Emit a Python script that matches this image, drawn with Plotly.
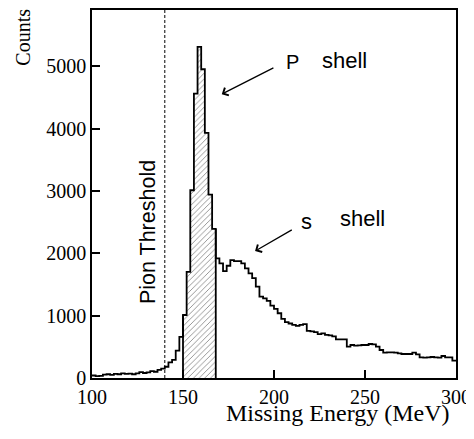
import plotly.graph_objects as go

# ---- data ----
bin_start = list(range(100, 300, 2))  # 2 MeV bins, 100..298
counts = [
    40, 30, 35, 55, 60, 50, 65, 60, 75, 65,
    70, 60, 75, 95, 80, 90, 110, 100, 130, 150,
    180, 250, 290, 440, 660, 1010, 1700, 3010, 4560, 5310,
    4950, 3930, 2940, 2390, 1918, 1838, 1715, 1800, 1890, 1875,
    1875, 1838, 1758, 1678, 1600, 1465, 1305, 1278, 1236, 1160,
    1108, 1038, 948, 895, 874, 852, 836, 852, 863, 756,
    746, 735, 703, 714, 692, 682, 666, 620, 620, 620,
    502, 529, 518, 523, 529, 529, 545, 540, 502, 449,
    406, 411, 411, 406, 396, 385, 385, 385, 406, 380,
    332, 327, 332, 337, 332, 327, 353, 332, 332, 278,
]
bin_width = 2
p_shell_range = (150, 168)     # hatched region
pion_threshold = 140
x_ticks = [100, 150, 200, 250, 300]
y_ticks = [0, 1000, 2000, 3000, 4000, 5000]

# ---- derived ----
edges = bin_start + [bin_start[-1] + bin_width]
step_y = counts + [counts[-1]]

hx = [b + bin_width / 2 for b in bin_start if p_shell_range[0] <= b < p_shell_range[1]]
hy = [c for b, c in zip(bin_start, counts) if p_shell_range[0] <= b < p_shell_range[1]]
first_h = counts[bin_start.index(p_shell_range[0])]
last_h = counts[bin_start.index(p_shell_range[1] - bin_width)]

fig = go.Figure()

# hatched p-shell bars
fig.add_trace(go.Bar(
    x=hx, y=hy, width=bin_width,
    marker=dict(color="white", line=dict(width=0),
                pattern=dict(shape="/", fgcolor="black", bgcolor="white",
                             size=4, solidity=0.2)),
    showlegend=False, hoverinfo="skip"))

# pion threshold dashed line
fig.add_trace(go.Scatter(
    x=[pion_threshold, pion_threshold], y=[0, 5900], mode="lines",
    line=dict(color="black", width=1, dash="3px,2px"),
    showlegend=False, hoverinfo="skip"))

# histogram outline
fig.add_trace(go.Scatter(
    x=edges, y=step_y, mode="lines", line_shape="hv",
    line=dict(color="black", width=1.8),
    showlegend=False))

# edges of hatched region down to baseline
fig.add_trace(go.Scatter(
    x=[p_shell_range[0], p_shell_range[0], None, p_shell_range[1], p_shell_range[1]],
    y=[0, first_h, None, 0, last_h], mode="lines",
    line=dict(color="black", width=1.8),
    showlegend=False, hoverinfo="skip"))

axis_common = dict(
    showline=True, mirror=True, linecolor="black", linewidth=1.5,
    ticks="inside", ticklen=8, tickwidth=1.5, tickcolor="black",
    showgrid=False, zeroline=False, automargin=False,
    tickfont=dict(family="Liberation Serif", size=20, color="black"),
)

# the page body adds an 8px offset, so the figure is sized/margined to compensate
fig.update_layout(
    width=466, height=431,
    margin=dict(l=84, r=18, t=2, b=61),
    paper_bgcolor="white", plot_bgcolor="white",
    bargap=0,
    xaxis=dict(range=[100, 300], tickvals=x_ticks, **axis_common),
    yaxis=dict(range=[0, 5900], tickvals=y_ticks, **axis_common),
    annotations=[
        dict(text="Missing Energy (MeV)", xref="paper", yref="paper",
             x=0.99, y=-0.095, xanchor="right", yanchor="middle", showarrow=False,
             font=dict(family="Liberation Serif", size=24, color="black")),
        dict(text="Counts", xref="paper", yref="paper",
             x=-0.19, y=0.927, xanchor="center", yanchor="middle", showarrow=False,
             textangle=-90,
             font=dict(family="Liberation Serif", size=20, color="black")),
        dict(text="Pion Threshold", xref="x", yref="y", x=130.8, y=2340,
             showarrow=False, textangle=-90,
             font=dict(family="Liberation Sans", size=21.5, color="black")),
        dict(text="P", xref="x", yref="y", x=210.4, y=5064, showarrow=False,
             font=dict(family="Liberation Sans", size=20, color="black")),
        dict(text="shell", xref="x", yref="y", x=239, y=5096, showarrow=False,
             font=dict(family="Liberation Sans", size=22, color="black")),
        dict(text="s", xref="x", yref="y", x=217.6, y=2516, showarrow=False,
             font=dict(family="Liberation Sans", size=22, color="black")),
        dict(text="shell", xref="x", yref="y", x=248.4, y=2564, showarrow=False,
             font=dict(family="Liberation Sans", size=22, color="black")),
        dict(text="", xref="x", yref="y", axref="x", ayref="y",
             x=171.3, y=4551, ax=200.5, ay=4984,
             showarrow=True, arrowhead=4, arrowsize=1.3, arrowwidth=1.3,
             arrowcolor="black"),
        dict(text="", xref="x", yref="y", axref="x", ayref="y",
             x=189.6, y=2035, ax=210.6, ay=2388,
             showarrow=True, arrowhead=4, arrowsize=1.3, arrowwidth=1.3,
             arrowcolor="black"),
    ],
)

fig.write_html("out.html")
